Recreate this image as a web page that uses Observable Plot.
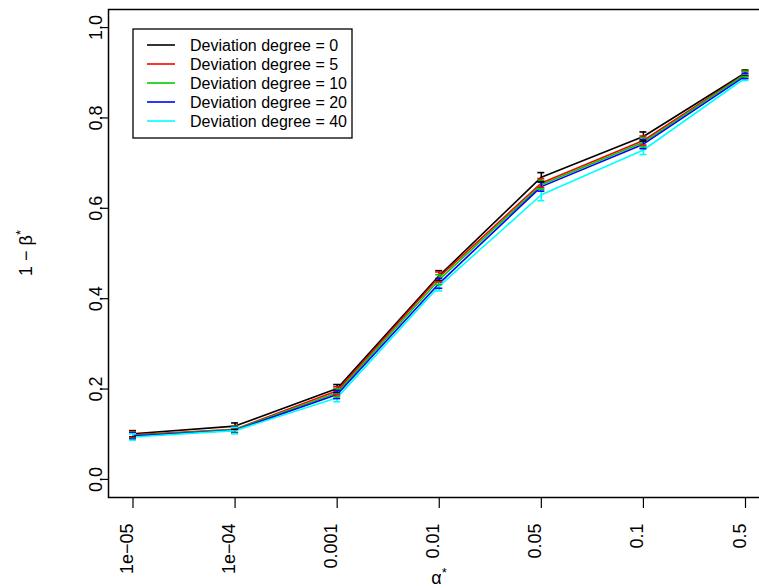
<!DOCTYPE html>
<html>
<head>
<meta charset="utf-8">
<script src="https://cdn.jsdelivr.net/npm/d3@7"></script>
<script src="https://cdn.jsdelivr.net/npm/@observablehq/plot@0.6"></script>
<style>
  body { margin: 0; background: #fff; overflow: hidden; }
  #chart { position: relative; width: 759px; height: 588px; }
</style>
</head>
<body>
<div id="chart"></div>
<script>
// ---- data ----
const alphaLabels = ["1e\u221205", "1e\u221204", "0.001", "0.01", "0.05", "0.1", "0.5"];
const alphaIndex = [1, 2, 3, 4, 5, 6, 7];
const yTicks = [0, 0.2, 0.4, 0.6, 0.8, 1.0];

const seriesNames = [
  "Deviation degree = 0",
  "Deviation degree = 5",
  "Deviation degree = 10",
  "Deviation degree = 20",
  "Deviation degree = 40"
];
const seriesColors = ["#000000", "#FF0000", "#00CD00", "#0000FF", "#00FFFF"];

const power0  = [0.101, 0.118, 0.201, 0.451, 0.669, 0.759, 0.900];
const power5  = [0.099, 0.111, 0.196, 0.448, 0.656, 0.750, 0.898];
const power10 = [0.097, 0.110, 0.192, 0.442, 0.652, 0.746, 0.897];
const power20 = [0.096, 0.109, 0.188, 0.434, 0.648, 0.742, 0.893];
const power40 = [0.094, 0.108, 0.181, 0.428, 0.630, 0.729, 0.889];

const err0  = [0.007, 0.007, 0.009, 0.011, 0.010, 0.010, 0.006];
const err5  = [0.007, 0.007, 0.009, 0.011, 0.010, 0.010, 0.006];
const err10 = [0.007, 0.007, 0.009, 0.011, 0.010, 0.010, 0.006];
const err20 = [0.007, 0.007, 0.009, 0.011, 0.010, 0.010, 0.006];
const err40 = [0.007, 0.007, 0.009, 0.011, 0.013, 0.010, 0.006];

const powerSeries = [power0, power5, power10, power20, power40];
const errSeries = [err0, err5, err10, err20, err40];

const rows = [];
powerSeries.forEach((vals, s) => {
  vals.forEach((v, k) => {
    rows.push({ s, name: seriesNames[s], color: seriesColors[s], i: alphaIndex[k], v, e: errSeries[s][k] });
  });
});

const FONT = "'Liberation Sans', Arial, Helvetica, sans-serif";

const plot = Plot.plot({
  width: 759,
  height: 588,
  marginLeft: 108,
  marginRight: -10.5,
  marginTop: 9,
  marginBottom: 91,
  style: { fontFamily: FONT, fontSize: "18px", color: "#000", background: "#fff" },
  x: { type: "linear", domain: [0.76, 7.24] },
  y: { domain: [-0.04, 1.04] },
  marks: [
    Plot.frame({ stroke: "#000", strokeWidth: 1.5 }),
    Plot.axisX(alphaIndex, {
      anchor: "bottom", tickSize: 11, tickRotate: -90,
      tickFormat: (d) => alphaLabels[alphaIndex.indexOf(d)],
      textAnchor: "end", lineAnchor: "bottom", tickPadding: 15,
      label: null, strokeWidth: 1.2
    }),
    Plot.axisY(yTicks, {
      anchor: "left", tickSize: 8, tickRotate: -90, tickFormat: ".1f",
      textAnchor: "middle", lineAnchor: "bottom", tickPadding: -1,
      label: null, strokeWidth: 1.2
    }),
    Plot.line(rows, { x: "i", y: "v", z: "s", stroke: "color", strokeWidth: 1.6 }),
    Plot.ruleX(rows, { x: "i", y1: d => d.v - d.e, y2: d => d.v + d.e, stroke: "color", strokeWidth: 1.6 }),
    Plot.ruleY(rows, { x1: "i", x2: "i", y: d => d.v + d.e, insetLeft: -3.5, insetRight: -3.5, stroke: "color", strokeWidth: 1.6 }),
    Plot.ruleY(rows, { x1: "i", x2: "i", y: d => d.v - d.e, insetLeft: -3.5, insetRight: -3.5, stroke: "color", strokeWidth: 1.6 })
  ]
});

document.getElementById("chart").appendChild(plot);

// ---- axis titles and legend ----
const svg = d3.select(plot);

const xt = svg.append("text")
  .attr("x", 439).attr("y", 584)
  .attr("text-anchor", "middle")
  .style("font-family", FONT).style("font-size", "18px").attr("fill", "#000");
xt.append("tspan").text("\u03b1");
xt.append("tspan").attr("dy", -7).style("font-size", "13px").text("*");

const yt = svg.append("text")
  .attr("transform", "translate(32,253) rotate(-90)")
  .attr("text-anchor", "middle")
  .style("font-family", FONT).style("font-size", "18px").attr("fill", "#000");
yt.append("tspan").text("1 \u2212 \u03b2");
yt.append("tspan").attr("dy", -7).style("font-size", "13px").text("*");

const lg = svg.append("g");
lg.append("rect")
  .attr("x", 133).attr("y", 29).attr("width", 219).attr("height", 109)
  .attr("fill", "#fff").attr("stroke", "#000").attr("stroke-width", 1.3);
seriesNames.forEach((name, k) => {
  const yy = 45 + k * 19;
  lg.append("line")
    .attr("x1", 147).attr("x2", 175).attr("y1", yy).attr("y2", yy)
    .attr("stroke", seriesColors[k]).attr("stroke-width", 1.6);
  lg.append("text")
    .attr("x", 190).attr("y", yy).attr("dy", "0.35em")
    .attr("text-anchor", "start")
    .style("font-family", FONT).style("font-size", "16px").attr("fill", "#000")
    .text(name);
});
</script>
</body>
</html>
